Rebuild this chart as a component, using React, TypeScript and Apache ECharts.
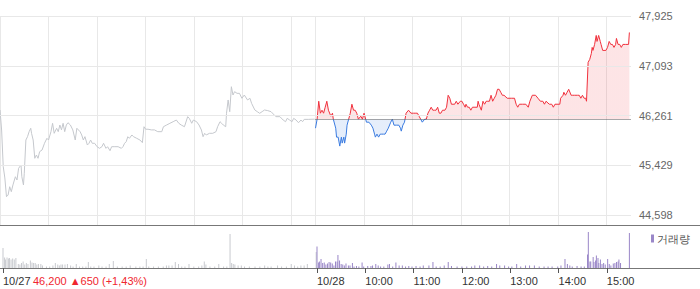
import React, { useEffect, useRef } from "react";
import * as echarts from "echarts";

const BASE = 46200;
const PRICE_MIN = 44431;
const PRICE_MAX = 47925;
const PRICE_TICKS = [44598, 45429, 46261, 47093, 47925];
const SESSION_END = 780;
const TIME_GRID = [0, 60, 120, 180, 240, 300, 360, 390, 450, 510, 570, 630, 690, 750];
const TIME_LABEL_POS = [0, 390, 450, 510, 570, 630, 690, 750];
const TIME_LABELS = ["10/27", "10/28", "10:00", "11:00", "12:00", "13:00", "14:00", "15:00"];
const PREV_DAY_TEXT = "46,200 ▲650 (+1,43%)";
const VOLUME_NAME = "거래량";

// minute index from 10/27 09:00 (each session 390 min), price
const day1Price: number[][] = [
  [0, 46354], [2, 46019], [4, 45406], [6, 45217], [8, 44904], [10, 44932], [12, 45071], [14, 44988],
  [16, 45100], [19, 45238], [21, 45183], [23, 45379], [26, 45434], [27, 45238], [29, 45100], [30, 45295],
  [32, 45852], [34, 45907], [36, 45991], [38, 46048], [39, 45964], [41, 45852], [43, 45546], [45, 45601],
  [47, 45546], [49, 45657], [52, 45685], [55, 45797], [58, 45880], [60, 45852], [63, 45991], [65, 46131],
  [67, 45964], [70, 46048], [72, 45991], [74, 46103], [76, 46021], [78, 46131], [80, 45991], [82, 46103],
  [84, 46141], [87, 46103], [90, 46021], [93, 45852], [95, 46048], [99, 45991], [101, 45936], [103, 45852],
  [105, 45908], [108, 45768], [110, 45797], [112, 45852], [114, 45797], [117, 45797], [120, 45740], [123, 45713],
  [126, 45740], [128, 45797], [131, 45713], [133, 45740], [136, 45673], [138, 45740], [142, 45740], [146, 45740],
  [150, 45713], [152, 45740], [154, 45797], [156, 45824], [158, 45907], [160, 45880], [163, 45936], [165, 45908],
  [169, 45880], [173, 45852], [176, 45808], [178, 46074], [180, 46032], [183, 46032], [187, 46021], [191, 46021],
  [195, 45991], [200, 45991], [202, 46074], [206, 46103], [210, 46131], [214, 46158], [218, 46186], [221, 46131],
  [224, 46103], [228, 46074], [232, 46242], [234, 46214], [237, 46131], [239, 46186], [243, 46158], [246, 46103],
  [249, 46019], [251, 45907], [253, 45964], [255, 45936], [259, 45964], [263, 45964], [267, 45991], [269, 46074],
  [272, 46158], [274, 46131], [276, 46103], [279, 46074], [280, 46298], [282, 46521], [284, 46325], [286, 46743],
  [288, 46604], [290, 46660], [293, 46632], [296, 46632], [299, 46549], [302, 46604], [306, 46521], [309, 46549],
  [311, 46465], [315, 46354], [318, 46326], [321, 46298], [324, 46326], [327, 46354], [331, 46343], [335, 46326],
  [339, 46270], [341, 46242], [346, 46242], [350, 46186], [353, 46158], [355, 46214], [358, 46186], [361, 46158],
  [363, 46214], [366, 46186], [369, 46141], [372, 46186], [374, 46158], [376, 46197], [381, 46197], [389, 46200],
];

const day2Price: number[][] = [
  [390, 46050], [392, 46200], [394, 46500], [396, 46300], [398, 46350], [400, 46300], [402, 46400], [404, 46500],
  [406, 46350], [409, 46250], [411, 46300], [412, 46200], [415, 46050], [416, 45900], [418, 45900], [420, 45750],
  [422, 45900], [423, 45800], [425, 45900], [426, 45800], [428, 45950], [429, 46100], [431, 46200], [433, 46300],
  [435, 46450], [437, 46350], [439, 46350], [441, 46300], [443, 46200], [446, 46250], [448, 46200], [450, 46300],
  [452, 46200], [453, 46150], [456, 46150], [459, 46100], [461, 46050], [463, 45950], [464, 45900], [466, 45950],
  [468, 45900], [470, 45950], [472, 45950], [474, 45950], [476, 45950], [478, 46000], [480, 46050], [483, 46150],
  [485, 46200], [487, 46100], [490, 46100], [493, 46100], [495, 46050], [496, 46000], [498, 46100], [500, 46150],
  [502, 46300], [505, 46350], [508, 46300], [511, 46300], [514, 46300], [516, 46300], [518, 46250], [520, 46200],
  [522, 46150], [525, 46200], [527, 46200], [529, 46300], [531, 46350], [533, 46400], [535, 46350], [537, 46350],
  [539, 46350], [541, 46400], [543, 46300], [545, 46300], [547, 46350], [550, 46350], [552, 46400], [554, 46600],
  [556, 46550], [558, 46450], [560, 46450], [562, 46450], [564, 46500], [566, 46450], [569, 46500], [571, 46500],
  [573, 46450], [575, 46400], [576, 46450], [578, 46400], [580, 46400], [582, 46350], [584, 46400], [586, 46400],
  [590, 46400], [591, 46500], [592, 46450], [595, 46350], [597, 46500], [599, 46450], [601, 46500], [603, 46500],
  [605, 46500], [607, 46600], [609, 46500], [611, 46550], [613, 46600], [615, 46700], [617, 46700], [619, 46650],
  [621, 46600], [623, 46600], [627, 46550], [632, 46550], [636, 46550], [638, 46450], [640, 46400], [642, 46450],
  [646, 46450], [650, 46450], [653, 46400], [655, 46500], [658, 46600], [662, 46600], [665, 46550], [668, 46500],
  [671, 46500], [673, 46450], [675, 46500], [679, 46450], [682, 46450], [684, 46400], [686, 46450], [692, 46450],
  [693, 46550], [696, 46600], [697, 46650], [699, 46600], [701, 46650], [703, 46700], [706, 46600], [708, 46600],
  [710, 46600], [712, 46600], [714, 46600], [716, 46600], [718, 46550], [720, 46600], [722, 46550], [724, 46550],
  [725, 46500], [727, 47150], [729, 47200], [731, 47300], [732, 47400], [733, 47350], [735, 47450], [737, 47600],
  [738, 47500], [740, 47600], [742, 47500], [743, 47450], [745, 47350], [749, 47350], [751, 47400], [753, 47500],
  [755, 47450], [757, 47450], [759, 47400], [761, 47450], [762, 47550], [764, 47450], [766, 47450], [768, 47400],
  [770, 47450], [773, 47450], [777, 47450], [778, 47650],
];

const day1Volume: number[][] = [
  [0, 40000], [2, 21000], [3, 17000], [5, 21000], [7, 19000], [8, 20000], [10, 17000], [12, 19000], [14, 17000],
  [16, 20000], [19, 8000], [21, 7000], [23, 10000], [25, 13000], [27, 7000], [29, 10000], [31, 8000], [34, 15000],
  [36, 11000], [38, 10000], [40, 10000], [42, 7000], [44, 8000], [47, 8000], [49, 5000], [54, 3000], [58, 3000],
  [62, 5000], [65, 10000], [68, 7000], [70, 5000], [72, 7000], [74, 7000], [77, 7000], [80, 8000], [84, 5000],
  [87, 3000], [91, 8000], [95, 3000], [99, 3000], [103, 3000], [106, 12000], [109, 3000], [113, 3000], [119, 5000],
  [123, 3000], [128, 3000], [132, 8000], [137, 14000], [142, 3000], [148, 3000], [153, 3000], [158, 5000],
  [165, 3000], [170, 3000], [174, 3000], [178, 18000], [181, 3000], [187, 3000], [193, 3000], [199, 3000],
  [203, 5000], [206, 5000], [210, 5000], [214, 12000], [218, 8000], [222, 3000], [226, 3000], [231, 8000],
  [237, 3000], [243, 3000], [247, 5000], [250, 13000], [252, 7000], [257, 3000], [263, 3000], [268, 8000],
  [274, 3000], [278, 3000], [282, 68000], [284, 10000], [286, 8000], [288, 7000], [292, 5000], [296, 5000],
  [300, 3000], [306, 3000], [313, 3000], [319, 3000], [325, 5000], [329, 3000], [333, 3000], [341, 5000],
  [346, 3000], [352, 3000], [358, 8000], [362, 5000], [366, 3000], [370, 5000], [374, 5000], [378, 8000],
  [389, 32000],
];

const day2Volume: number[][] = [
  [390, 43000], [392, 11000], [393, 13000], [395, 18000], [397, 10000], [399, 11000], [401, 7000], [403, 9000],
  [405, 12000], [407, 11000], [409, 9000], [411, 5000], [413, 13000], [415, 13000], [416, 26000], [418, 15000],
  [420, 8000], [422, 7000], [424, 5000], [426, 9000], [429, 5000], [431, 5000], [434, 10000], [436, 3000],
  [439, 4000], [442, 3000], [446, 11000], [448, 3000], [453, 4000], [457, 4000], [459, 5000], [463, 8000],
  [466, 5000], [469, 3000], [473, 3000], [478, 7000], [480, 8000], [484, 3000], [488, 11000], [492, 5000],
  [496, 5000], [500, 3000], [504, 4000], [508, 3000], [513, 4000], [518, 3000], [522, 5000], [529, 5000],
  [534, 12000], [538, 3000], [543, 3000], [548, 5000], [553, 12000], [557, 4000], [564, 3000], [570, 3000],
  [576, 3000], [582, 3000], [586, 5000], [592, 5000], [597, 3000], [602, 4000], [607, 3000], [613, 8000],
  [617, 5000], [623, 5000], [628, 3000], [632, 3000], [638, 8000], [643, 3000], [649, 5000], [654, 5000],
  [660, 5000], [666, 3000], [672, 3000], [677, 3000], [682, 3000], [689, 3000], [693, 5000], [698, 18000],
  [701, 8000], [704, 5000], [707, 3000], [713, 4000], [718, 3000], [722, 3000], [726, 27000], [727, 72000],
  [729, 13000], [730, 13000], [733, 22000], [734, 12000], [736, 15000], [737, 25000], [739, 20000], [740, 10000],
  [742, 17000], [744, 8000], [746, 10000], [748, 7000], [751, 18000], [753, 8000], [755, 5000], [758, 9000],
  [760, 10000], [762, 12000], [764, 13000], [765, 17000], [767, 10000], [778, 70000],
];

const RED = "#f0303c";
const BLUE = "#3a7be0";
const GREY_LINE = "#c5c8cd";
const GREY_BAR = "#c8cacf";
const PURPLE = "#9a87c8";
const GRID = "#e8e8e8";
const FONT = "'Liberation Sans', Arial, sans-serif";

export default function App() {
  const ref = useRef<HTMLDivElement>(null);
  useEffect(() => {
    if (!ref.current) return;
    const chart = echarts.init(ref.current, undefined, { renderer: "svg" });
    const minutes: string[] = [];
    for (let i = 0; i <= SESSION_END; i++) minutes.push(String(i));
    const volumeData = [
      ...day1Volume.map((d) => ({ value: d, itemStyle: { color: GREY_BAR } })),
      ...day2Volume.map((d) => ({ value: d })),
    ];
    chart.setOption({
      animation: false,
      textStyle: { fontFamily: FONT },
      grid: [
        { left: 0, right: 69, top: 16, bottom: 64 },
        { left: 0, right: 69, top: 225, bottom: 21 },
      ],
      legend: {
        data: [{ name: VOLUME_NAME, icon: "rect" }],
        left: 651,
        top: 233,
        padding: 0,
        itemWidth: 3,
        itemHeight: 8,
        selectedMode: false,
        textStyle: { fontSize: 11, color: "#555", padding: [0, 0, 0, -2] },
      },
      visualMap: {
        type: "piecewise",
        show: false,
        seriesIndex: 1,
        dimension: 1,
        pieces: [
          { gte: 40000, lt: BASE, color: BLUE },
          { gte: BASE, lte: 50000, color: RED },
        ],
        outOfRange: { color: RED },
      },
      xAxis: [
        {
          type: "category",
          gridIndex: 0,
          data: minutes,
          boundaryGap: false,
          axisLine: { show: false },
          axisTick: { show: false },
          axisLabel: { show: false },
          splitLine: {
            show: true,
            interval: (i: number) => TIME_GRID.indexOf(i) >= 0,
            lineStyle: { color: GRID, width: 1 },
          },
        },
        {
          type: "category",
          gridIndex: 1,
          data: minutes,
          boundaryGap: false,
          axisLine: { show: false },
          axisTick: {
            show: true,
            length: 5,
            interval: (i: number) => TIME_LABEL_POS.indexOf(i) >= 0,
            lineStyle: { color: "#555" },
          },
          axisLabel: {
            show: true,
            interval: (i: number) => TIME_LABEL_POS.indexOf(i) >= 0,
            align: "left",
            margin: 7,
            fontSize: 11,
            color: "#333",
            formatter: (v: string) => TIME_LABELS[TIME_LABEL_POS.indexOf(Number(v))] ?? "",
          },
          splitLine: { show: false },
        },
      ],
      yAxis: [
        {
          type: "value",
          gridIndex: 0,
          position: "right",
          min: PRICE_MIN,
          max: PRICE_MAX,
          axisLine: { show: false },
          axisTick: { show: false },
          axisLabel: { show: false },
          splitLine: { show: false },
        },
        {
          type: "value",
          gridIndex: 1,
          min: 0,
          max: 86000,
          show: false,
          splitLine: { show: false },
        },
      ],
      series: [
        {
          type: "line",
          xAxisIndex: 0,
          yAxisIndex: 0,
          data: day1Price,
          symbol: "none",
          lineStyle: { color: GREY_LINE, width: 1 },
          silent: true,
          markLine: {
            silent: true,
            symbol: ["none", "none"],
            lineStyle: { type: "solid", color: GRID, width: 1 },
            label: {
              show: true,
              position: "end",
              distance: 8,
              color: "#666",
              fontSize: 11,
              fontFamily: FONT,
              formatter: (p: any) => Number(p.value).toLocaleString("en-US"),
            },
            data: PRICE_TICKS.map((v) => ({ yAxis: v })),
          },
        },
        {
          type: "line",
          xAxisIndex: 0,
          yAxisIndex: 0,
          data: day2Price,
          symbol: "none",
          lineStyle: { width: 1 },
          areaStyle: { origin: BASE, opacity: 0.13 },
          silent: true,
          markLine: {
            silent: true,
            symbol: ["none", "none"],
            label: { show: false },
            lineStyle: { type: "dotted", color: "#555", width: 1 },
            data: [[{ coord: ["390", BASE] }, { coord: [String(SESSION_END), BASE] }]],
          },
        },
        {
          type: "bar",
          name: VOLUME_NAME,
          xAxisIndex: 1,
          yAxisIndex: 1,
          data: volumeData,
          barWidth: 1,
          itemStyle: { color: PURPLE },
          silent: true,
        },
      ],
      graphic: [
        { type: "line", shape: { x1: 0, y1: 225.5, x2: 700, y2: 225.5 }, style: { stroke: "#777", lineWidth: 1 } },
        { type: "line", shape: { x1: 0, y1: 268.5, x2: 700, y2: 268.5 }, style: { stroke: "#777", lineWidth: 1 } },
        {
          type: "text",
          left: 33,
          top: 275,
          style: { text: PREV_DAY_TEXT, fill: "#f0262e", fontSize: 11, fontFamily: FONT },
        },
      ],
    });
    return () => chart.dispose();
  }, []);
  return (
    <div
      ref={ref}
      style={{ position: "fixed", left: 0, top: 0, width: 700, height: 289, background: "#fff" }}
    />
  );
}
